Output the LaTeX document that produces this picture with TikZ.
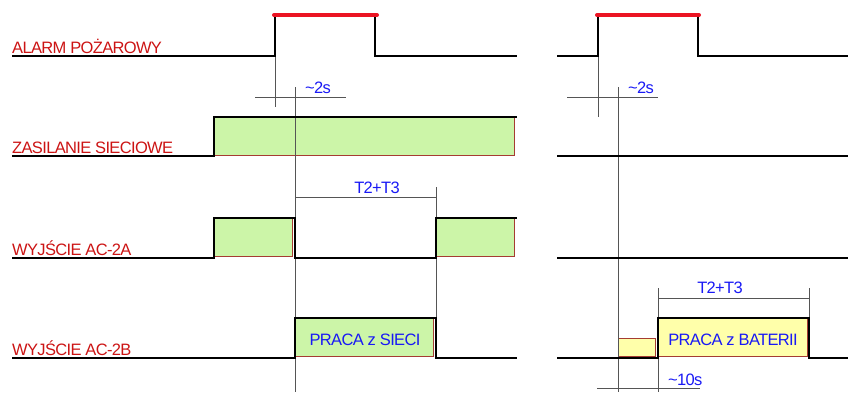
\documentclass[tikz,border=0pt]{standalone}
\usepackage{fontspec}
\setmainfont{Liberation Sans}
\newfontfamily\tightfont[LetterSpace=-4]{Liberation Sans}
\definecolor{lblred}{RGB}{204,20,20}
\definecolor{txtblue}{RGB}{25,25,245}
\definecolor{boxgreen}{RGB}{204,245,168}
\definecolor{boxyellow}{RGB}{255,255,170}
\definecolor{boxedge}{RGB}{165,60,50}
\definecolor{barred}{RGB}{235,20,35}
\definecolor{guide}{RGB}{85,85,85}
\tikzset{
  signal/.style={line width=1.7pt, black, line join=miter},
  guideline/.style={line width=0.8pt, guide},
  alarmbar/.style={line width=4pt, barred, line cap=round},
  greenbox/.style={fill=boxgreen, draw=boxedge, line width=0.9pt},
  yellowbox/.style={fill=boxyellow, draw=boxedge, line width=0.9pt},
  rowlabel/.style={anchor=base west, inner sep=0, text=lblred, font=\tightfont\fontsize{16.5}{17}\selectfont},
  timelabel/.style={anchor=base west, inner sep=0, text=txtblue, font=\tightfont\fontsize{16.5}{17}\selectfont},
  boxlabel/.style={anchor=base, inner sep=0, text=txtblue, font=\tightfont\fontsize{16.5}{17}\selectfont}
}
\begin{document}
\begin{tikzpicture}[x=1pt,y=-1pt]
\useasboundingbox (0,0) rectangle (848,392);
% boxes
\draw[greenbox] (214,117) rectangle (514,155);
\draw[greenbox] (214,218) rectangle (292,256);
\draw[greenbox] (436,218) rectangle (514,256);
\draw[greenbox] (295,318) rectangle (433,356);
\draw[yellowbox] (658,318) rectangle (807,356);
\draw[yellowbox] (618,338) rectangle (655,356);
% guide lines left
\draw[guideline] (275,56) -- (275,107);
\draw[guideline] (255,97) -- (346,97);
\draw[guideline] (295,87) -- (295,392);
\draw[guideline] (436,187) -- (436,358);
\draw[guideline] (295,197) -- (436,197);
% guide lines right
\draw[guideline] (598,56) -- (598,117);
\draw[guideline] (567,97) -- (658,97);
\draw[guideline] (618,87) -- (618,392);
\draw[guideline] (658,288) -- (658,392);
\draw[guideline] (809,288) -- (809,318);
\draw[guideline] (658,298) -- (809,298);
\draw[guideline] (597,388) -- (700,388);
% signals left
\draw[signal] (12,56) -- (275,56) -- (275,15) -- (375,15) -- (375,56) -- (517,56);
\draw[signal] (12,156) -- (214,156) -- (214,117) -- (517,117);
\draw[signal] (12,258) -- (214,258) -- (214,218) -- (295,218) -- (295,258) -- (436,258) -- (436,218) -- (517,218);
\draw[signal] (12,358) -- (295,358) -- (295,318) -- (436,318) -- (436,358) -- (517,358);
% signals right
\draw[signal] (557,56) -- (598,56) -- (598,15) -- (698,15) -- (698,56) -- (848,56);
\draw[signal] (557,156) -- (848,156);
\draw[signal] (557,258) -- (848,258);
\draw[signal] (557,358) -- (658,358) -- (658,318) -- (809,318) -- (809,358) -- (848,358);
% alarm bars
\draw[alarmbar] (274,15) -- (377,15);
\draw[alarmbar] (597,15) -- (699,15);
% labels
\node[rowlabel] (lalarm) at (12,53) {ALARM POŻAROWY};
\node[rowlabel] (lzas) at (12,153) {ZASILANIE SIECIOWE};
\node[rowlabel] (lac2a) at (12,255) {WYJŚCIE AC-2A};
\node[rowlabel] (lac2b) at (12,355) {WYJŚCIE AC-2B};
\node[timelabel] (t2sl) at (305,93) {\char"007E 2s};
\node[timelabel] (t2sr) at (628,93) {\char"007E 2s};
\node[timelabel] (t10s) at (668,385) {\char"007E 10s};
\node[boxlabel] (ttl) at (377,193) {T2+T3};
\node[boxlabel] (ttr) at (720,293) {T2+T3};
\node[boxlabel] (psieci) at (365,345) {PRACA z SIECI};
\node[boxlabel] (pbat) at (733,345) {PRACA z BATERII};
\end{tikzpicture}
\end{document}
